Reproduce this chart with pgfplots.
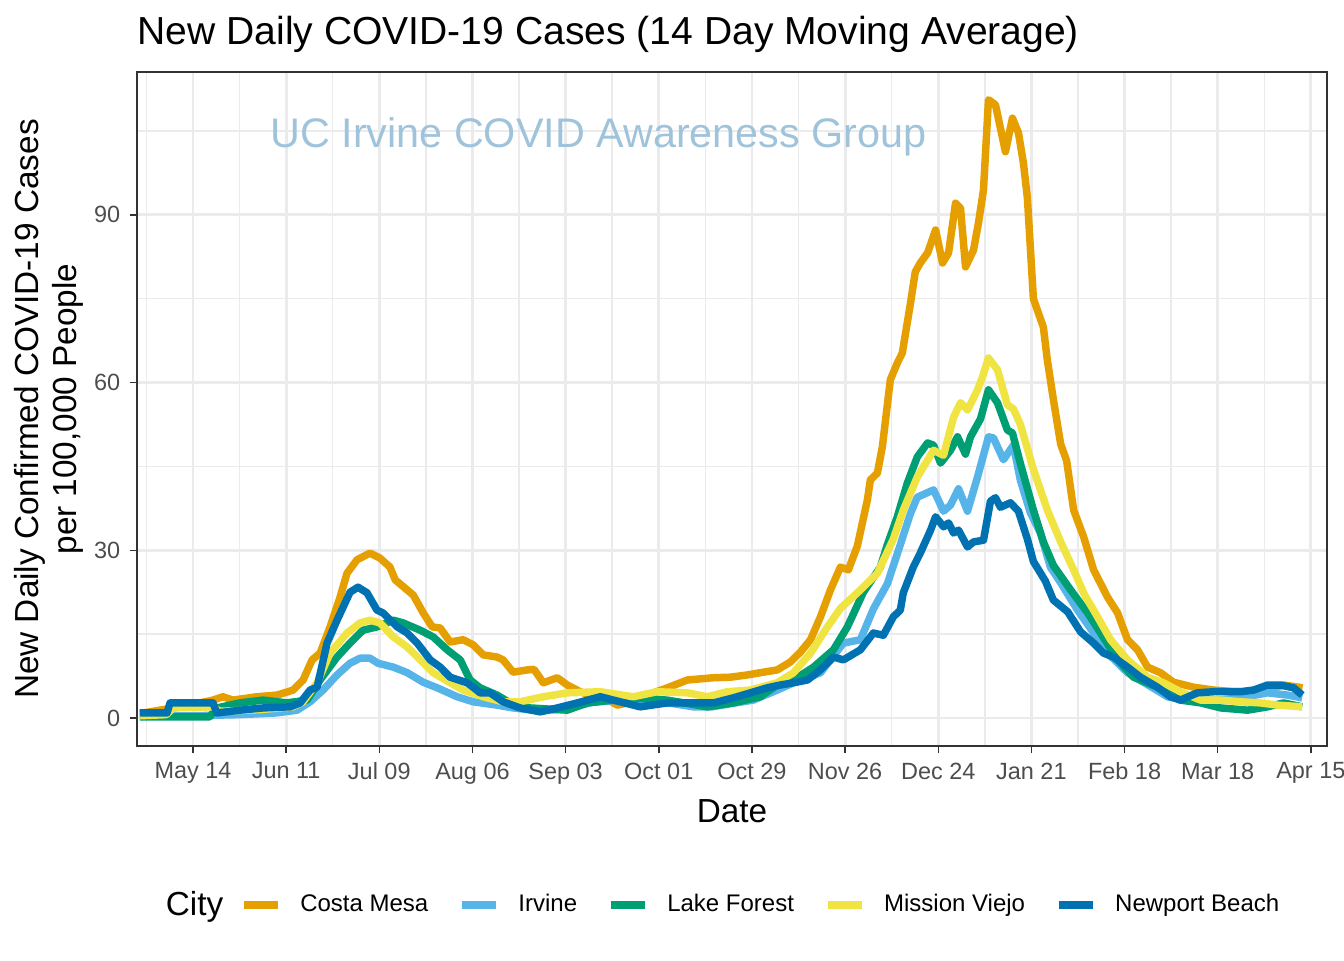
\documentclass[border=0pt]{standalone}
\usepackage{fontspec}
\setmainfont{Liberation Sans}
\usepackage{pgfplots}
\pgfplotsset{compat=1.18}
\definecolor{cmesa}{HTML}{E69F00}
\definecolor{irv}{HTML}{56B4E9}
\definecolor{lake}{HTML}{009E73}
\definecolor{mviejo}{HTML}{F0E442}
\definecolor{newp}{HTML}{0072B2}
\definecolor{gridc}{HTML}{EBEBEB}
\definecolor{grey20}{HTML}{333333}
\definecolor{grey30}{HTML}{4D4D4D}
\definecolor{wm}{RGB}{160,195,220}
\begin{document}
\begin{tikzpicture}
\path[use as bounding box] (0,0) rectangle (504pt,360pt);
\begin{axis}[
  at={(51.375pt,80.25pt)}, anchor=south west,
  width=446.25pt, height=252.75pt, scale only axis,
  xmin=-16.83, xmax=340.85, ymin=-5.01, ymax=115.56,
  xtick={0,28,...,336},
  xticklabels={May 14,Jun 11,Jul 09,Aug 06,Sep 03,Oct 01,Oct 29,Nov 26,Dec 24,Jan 21,Feb 18,Mar 18,Apr 15},
  minor xtick={-14,14,42,70,98,126,154,182,210,238,266,294,322},
  ytick={0,30,60,90}, minor ytick={15,45,75,105},
  grid=both,
  major grid style={draw=gridc, line width=1.07pt},
  minor grid style={draw=gridc, line width=0.53pt},
  axis line style={draw=grey20, line width=0.55pt},
  tick align=outside, xtick pos=bottom, ytick pos=left,
  major tick length=2.75pt, minor tick length=0pt,
  major tick style={draw=grey20, line width=0.55pt},
  tick label style={font=\fontsize{8.8}{10}\selectfont, text=grey30},
  /pgf/number format/assume math mode=true,
  every axis title shift=0pt,
  title={New Daily COVID-19 Cases (14 Day Moving Average)},
  title style={at={(axis description cs:0,1.0415)}, anchor=base west, font=\fontsize{14.65}{16}\selectfont, inner sep=0pt},
  xlabel={Date},
  xlabel style={at={(axis description cs:0.5,-0.1128)}, anchor=base, font=\fontsize{12.5}{14}\selectfont, inner sep=0pt},
  ylabel={New Daily Confirmed COVID-19 Cases\\per 100,000 People},
  ylabel style={at={(axis description cs:-0.0739,0.5)}, anchor=center, align=center, font=\fontsize{12.5}{14.3}\selectfont},
  legend columns=6,
  legend cell align=left,
  legend style={at={(axis description cs:0.0084,-0.236)}, anchor=west, draw=none, fill=none, inner sep=0pt,
    font=\fontsize{9}{11}\selectfont,
    nodes={inner xsep=0pt},
    /tikz/every odd column/.append style={column sep=6.85pt},
    /tikz/every even column/.append style={column sep=11.4pt}},
  legend image code/.code={\draw[#1, line width=2.8pt] (0pt,0pt) -- (12.75pt,0pt);},
]
\node[text=wm, font=\fontsize{15.5}{17}\selectfont, anchor=base west, inner sep=0pt] at (axis cs:23.1,102.1) {UC Irvine COVID Awareness Group};
\addlegendimage{empty legend}
\addlegendentry{\fontsize{12.5}{14}\selectfont City\hspace*{-4.9pt}}

\addplot[color=cmesa, line width=2.8pt, line join=round, no marks] coordinates {
(-16,0.8) (-10,1.4) (-1,2.3) (6.0,3.2) (9.0,3.8) (12.0,3.2) (19.2,3.8) (25.3,4.1) (30.1,5.0) (33.1,6.8) (35.8,10.4) (38.2,11.6) (41.2,16.3) (44.2,21.6) (46.3,25.9) (49.3,28.3) (53.2,29.5) (56.2,28.6) (59.2,27.0) (60.8,24.7) (64.4,22.9) (66.2,22.0) (69.2,18.8) (71.9,16.3) (74.3,16.1) (77.3,13.6) (81.2,14.0) (84.2,13.1) (87.2,11.3) (91.4,10.9) (93.2,10.4) (96.2,8.2) (100.5,8.6) (102.5,8.7) (105.3,6.3) (109.5,7.2) (112.5,5.9) (116.4,4.7) (119.4,4.1) (123.3,3.8) (127.5,2.3) (132.3,2.9) (136.5,4.1) (142.6,5.4) (148.6,6.8) (156.4,7.2) (161.5,7.3) (166.6,7.7) (170.5,8.1) (175.6,8.6) (179.5,10.0) (182.6,11.8) (185.6,14.0) (188.6,18.1) (191.6,22.9) (194.6,27.0) (197.0,26.5) (199.7,30.8) (202.7,39.0) (203.6,42.6) (205.7,43.8) (207.2,48.5) (209.6,60.5) (211.7,63.5) (213.2,65.3) (215.6,74.0) (217.1,79.8) (218.6,81.4) (220.8,83.2) (223.2,87.3) (225.3,81.4) (227.1,83.2) (229.2,92.1) (230.7,91.2) (232.2,80.7) (234.6,83.7) (236.1,88.6) (237.6,94.5) (239.1,110.6) (241.2,109.7) (244.2,101.3) (246.3,107.3) (248.1,104.7) (249.6,99.3) (250.8,93.0) (252.6,75.0) (255.6,69.9) (256.8,64.0) (258.6,57.0) (260.8,49.0) (262.6,46.0) (264.7,37.2) (267.7,32.4) (270.7,26.5) (274.9,21.6) (277.9,18.8) (280.9,14.0) (283.9,12.2) (286.9,9.1) (290.8,8.1) (294.7,6.4) (300.8,5.5) (306.8,5.0) (312.8,4.7) (318.8,4.7) (323.0,5.0) (327.8,5.9) (333.5,5.4)
};
\addlegendentry{Costa Mesa}

\addplot[color=irv, line width=2.8pt, line join=round, no marks] coordinates {
(-16,0.3) (0,0.4) (14,0.6) (25,0.9) (31.3,1.4) (35.2,2.9) (39.1,5.0) (43.3,7.7) (47.2,9.8) (50.2,10.7) (53.2,10.7) (55.6,9.8) (60.2,9.1) (64.4,8.1) (69.2,6.4) (73.4,5.4) (79.4,3.8) (84.2,2.9) (91.4,2.3) (96.2,1.8) (104,1.3) (112,1.6) (120,2.8) (128,3.2) (136,2.8) (144,2.6) (150.4,2.0) (156,2.0) (162,2.6) (168.4,3.2) (175.6,5.0) (180.5,6.3) (188.6,8.1) (195.5,13.4) (200.6,14.0) (204.5,19.5) (208.7,24.0) (212.6,31.0) (215.6,36.5) (217.7,39.5) (222.6,40.8) (225.6,37.0) (227.7,38.1) (230.1,41.0) (232.8,37.0) (235.8,43.1) (239.1,50.3) (240.6,50.1) (243.6,46.2) (245.1,47.5) (246.6,48.8) (248.7,42.5) (251.7,36.7) (254.7,33.1) (257.7,27.0) (260.8,24.2) (265.9,19.3) (270.7,15.2) (274.9,11.6) (280.9,8.1) (285.7,6.4) (292.9,3.8) (298.9,3.2) (308.0,3.2) (314.9,3.6) (323.0,4.5) (329.0,4.1) (333.4,3.6)
};
\addlegendentry{Irvine}

\addplot[color=lake, line width=2.8pt, line join=round, no marks] coordinates {
(-16,0.2) (0,0.2) (5,0.2) (7.2,1.8) (14.1,2.7) (21.1,3.2) (28.3,2.7) (34.3,3.2) (38.2,6.8) (43.3,10.9) (47.2,13.4) (51.1,15.7) (55.3,16.3) (60.2,17.5) (63.2,17.0) (68.3,15.7) (72.2,14.5) (76.4,12.2) (80.3,10.4) (83.3,6.8) (86.3,5.4) (91.4,4.1) (95.3,2.7) (101.4,1.8) (112.5,1.4) (118.5,2.7) (132.3,3.6) (142.6,3.2) (154.6,2.0) (162.4,2.7) (170.5,3.8) (175.6,5.9) (180.5,6.8) (186.5,9.1) (192.5,12.2) (196.7,16.3) (201.5,22.5) (206.6,27.0) (208.7,31.0) (211.7,36.0) (214.7,42.0) (217.7,46.7) (220.8,49.2) (222.6,48.8) (224.7,45.6) (227.7,47.9) (229.8,50.3) (232.2,47.2) (233.7,50.3) (236.7,53.5) (239.1,58.7) (241.8,56.4) (244.8,51.5) (246.3,51.0) (248.7,45.5) (252.6,37.2) (255.6,31.5) (258.6,27.3) (263.8,22.9) (268.9,18.8) (272.8,15.2) (277.9,10.4) (282.7,7.3) (289.9,5.5) (296.8,3.2) (302.9,2.7) (308.9,1.8) (317.0,1.4) (323.0,2.0) (327.8,2.7) (333.4,2.0)
};
\addlegendentry{Lake Forest}

\addplot[color=mviejo, line width=2.8pt, line join=round, no marks] coordinates {
(-16,0.4) (-8,0.6) (-6,1.8) (6,2.0) (8,1.2) (20,1.5) (30,2.0) (33.1,2.9) (37.3,6.3) (41.2,11.6) (46.3,15.2) (50.2,17.0) (53.2,17.5) (56.2,17.0) (60.2,14.5) (64.4,12.7) (68.3,10.4) (72.2,8.1) (77.3,6.3) (81.2,5.0) (87.2,3.8) (93.2,2.9) (98.3,2.9) (105.3,3.8) (112.5,4.5) (122.4,4.7) (132.3,3.8) (139.5,4.7) (148.6,4.5) (154.6,3.8) (160.6,4.7) (167.5,5.0) (175.6,6.3) (180.5,8.1) (185.6,11.6) (190.7,16.3) (194.6,19.6) (200.6,22.9) (205.7,25.9) (210.5,32.0) (213.5,37.2) (217.7,43.1) (222.6,47.9) (225.6,47.0) (228.6,53.8) (230.7,56.4) (232.8,55.1) (235.8,58.7) (237.3,61.0) (239.1,64.4) (241.8,62.3) (244.8,56.0) (246.6,55.3) (248.7,52.5) (252.6,44.5) (256.8,37.2) (260.8,31.5) (264.7,26.5) (268.0,22.0) (270.7,19.3) (275.8,14.0) (280.9,10.4) (286.9,7.3) (291.7,6.3) (296.8,4.7) (302.9,3.2) (308.9,3.2) (314.9,2.9) (320.9,2.7) (326.0,2.3) (333.4,2.0)
};
\addlegendentry{Mission Viejo}

\addplot[color=newp, line width=2.8pt, line join=round, no marks] coordinates {
(-16,0.9) (-7.8,0.9) (-6.9,2.7) (6.0,2.7) (7.2,0.9) (14.1,1.4) (21.1,1.8) (29.2,2.0) (32.2,2.7) (35.2,5.0) (37.3,5.5) (40.3,13.4) (43.3,17.5) (47.2,22.5) (49.6,23.4) (52.3,22.4) (55.3,19.3) (57.1,18.8) (61.4,16.3) (64.4,15.2) (67.4,13.4) (71.3,10.4) (74.3,9.1) (77.3,7.3) (82.4,6.3) (84.2,5.5) (86.3,4.5) (89.3,4.5) (93.2,2.9) (98.3,1.8) (104.4,1.1) (109.5,1.8) (115.5,2.7) (122.4,3.8) (128.4,2.9) (134.4,2.0) (142.6,2.7) (148.6,2.7) (156.4,2.7) (162.4,3.6) (167.5,4.5) (172.6,5.4) (176.5,5.9) (180.5,6.3) (184.7,6.8) (188.6,8.6) (192.5,10.9) (195.5,10.4) (200.6,12.2) (204.5,15.2) (207.5,14.8) (210.5,18.1) (212.6,19.3) (213.5,22.4) (216.5,27.0) (218.6,29.5) (221.7,33.6) (223.2,36.0) (225.6,34.2) (227.1,34.9) (228.6,33.1) (230.1,33.6) (232.8,30.6) (234.6,31.5) (237.6,31.8) (239.7,38.8) (241.2,39.4) (242.7,37.7) (245.7,38.5) (248.1,37.0) (250.8,32.0) (252.6,28.0) (256.2,24.5) (258.6,21.1) (262.9,19.0) (266.8,15.4) (270.7,13.4) (273.7,11.6) (276.7,10.9) (280.9,9.1) (284.8,7.3) (289.9,5.5) (293.8,3.8) (296.8,3.2) (301.9,4.5) (306.8,4.7) (314.9,4.7) (318.8,5.0) (323.0,5.9) (326.8,5.9) (330.8,5.4) (333.4,4.1)
};
\addlegendentry{Newport Beach}
\end{axis}
\end{tikzpicture}
\end{document}
